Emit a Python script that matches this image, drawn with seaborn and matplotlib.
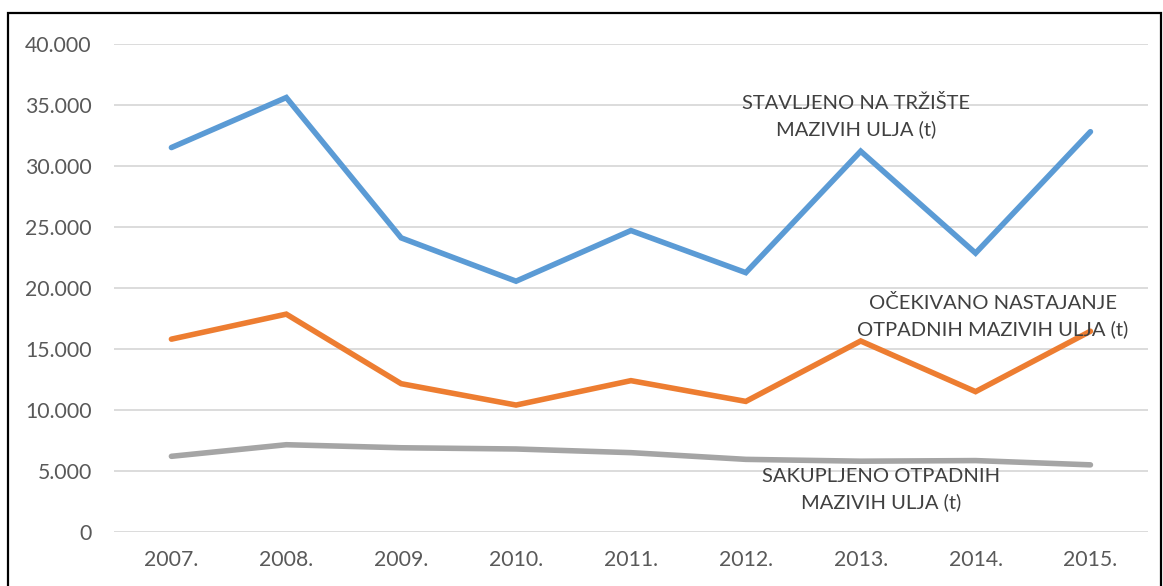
import pandas as pd
import matplotlib.pyplot as plt
import matplotlib.patches as patches
from matplotlib.ticker import FuncFormatter
import seaborn as sns

years = ['2007.', '2008.', '2009.', '2010.', '2011.', '2012.', '2013.', '2014.', '2015.']
stavljeno = [31500, 35600, 24100, 20550, 24700, 21250, 31200, 22850, 32800]
ocekivano = [15800, 17850, 12150, 10400, 12400, 10700, 15650, 11500, 16450]
sakupljeno = [6200, 7150, 6900, 6800, 6500, 5950, 5800, 5850, 5500]

names = ['STAVLJENO NA TRŽIŠTE\nMAZIVIH ULJA (t)',
         'OČEKIVANO NASTAJANJE\nOTPADNIH MAZIVIH ULJA (t)',
         'SAKUPLJENO OTPADNIH\nMAZIVIH ULJA (t)']
colors = ['#5B9BD5', '#ED7D31', '#A5A5A5']

df = pd.DataFrame({'Godina': years * 3,
                   'Vrijednost': stavljeno + ocekivano + sakupljeno,
                   'Serija': [names[0]] * 9 + [names[1]] * 9 + [names[2]] * 9})
df['x'] = list(range(9)) * 3

sns.set_style('white')
plt.rcParams['font.family'] = ['Lato', 'DejaVu Sans']

fig = plt.figure(figsize=(11.63, 5.86), dpi=100)
ax = fig.add_axes([0.098, 0.0922, 0.889, 0.833])

sns.lineplot(data=df, x='x', y='Vrijednost', hue='Serija', palette=colors,
             linewidth=4, legend=False, ax=ax, zorder=3)
for line in ax.get_lines():
    line.set_solid_capstyle('round')
    line.set_solid_joinstyle('miter')

ax.set_xlim(-0.5, 8.5)
ax.set_ylim(0, 40000)
ax.set_yticks(range(0, 40001, 5000))
ax.yaxis.set_major_formatter(FuncFormatter(lambda v, p: f'{int(v):,}'.replace(',', '.')))
ax.set_xticks(range(9))
ax.set_xticklabels(years)
ax.grid(axis='y', color='#D9D9D9', linewidth=1.3)
ax.set_axisbelow(True)
for s in ax.spines.values():
    s.set_visible(False)
ax.tick_params(axis='both', length=0, labelsize=15.3, colors='#595959')
ax.tick_params(axis='y', pad=16)
ax.tick_params(axis='x', pad=13)
ax.set_xlabel('')
ax.set_ylabel('')

# oznake serija
ax.text(5.96, 34050, names[0], ha='center', va='center', fontsize=14.5,
        color='#404040', linespacing=1.55)
ax.text(7.15, 17700, names[1], ha='center', va='center', fontsize=14.5,
        color='#404040', linespacing=1.55)
ax.text(6.18, 3450, names[2], ha='center', va='center', fontsize=14.5,
        color='#404040', linespacing=1.55)

# okvir
fig.patches.append(patches.Rectangle((8 / 1163, -0.1), 1153 / 1163, 1.1 - 13 / 586,
                                     transform=fig.transFigure, fill=False,
                                     edgecolor='black', linewidth=1.6))

fig.savefig('out.png', dpi=100)
